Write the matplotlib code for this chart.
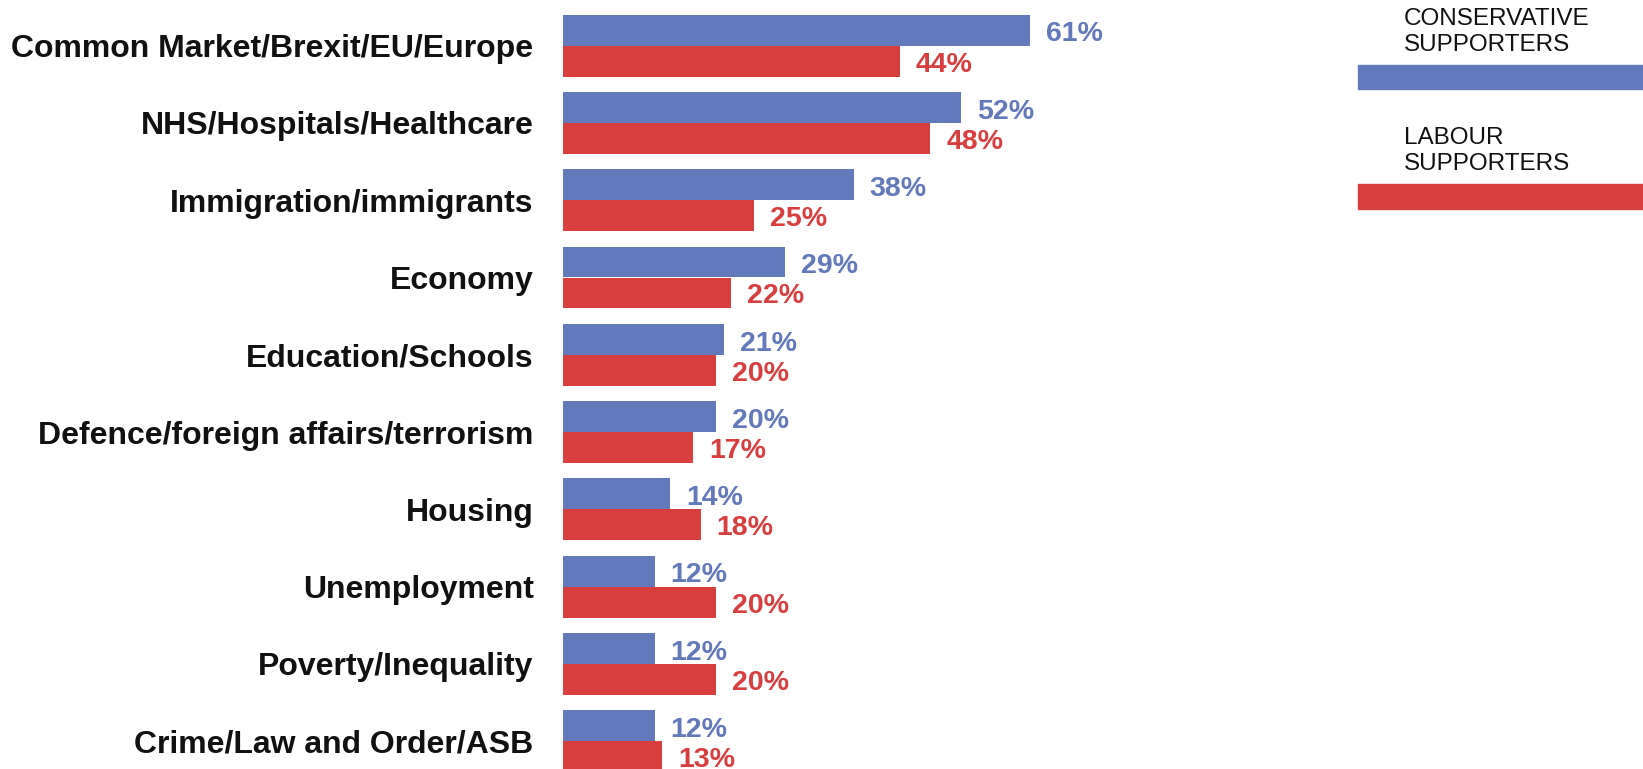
import matplotlib
matplotlib.use("Agg")
import matplotlib.pyplot as plt
from matplotlib.patches import Rectangle

plt.rcParams['font.family'] = ['Liberation Sans', 'DejaVu Sans']

categories = ["Common Market/Brexit/EU/Europe", "NHS/Hospitals/Healthcare",
              "Immigration/immigrants", "Economy", "Education/Schools",
              "Defence/foreign affairs/terrorism", "Housing", "Unemployment",
              "Poverty/Inequality", "Crime/Law and Order/ASB"]
conservative = [61, 52, 38, 29, 21, 20, 14, 12, 12, 12]
labour = [44, 48, 25, 22, 20, 17, 18, 20, 20, 13]
series_names = ["CONSERVATIVE\nSUPPORTERS", "LABOUR\nSUPPORTERS"]

blue = "#6279BB"
red = "#D83E3E"

W, H = 1643, 769
fig = plt.figure(figsize=(W / 100, H / 100), dpi=100)
x0 = 562.7
ax = fig.add_axes([x0 / W, 0, 1 - x0 / W, 1])

pitch = 77.3
first = 45.6
ax.set_ylim((H - first) / pitch, -first / pitch)
ax.set_xlim(0, (W - x0) / 7.66)

ys = list(range(len(categories)))
h = 0.4
ax.barh([y - h / 2 for y in ys], conservative, height=h, color=blue)
ax.barh([y + h / 2 for y in ys], labour, height=h, color=red)

for y, c, l in zip(ys, conservative, labour):
    ax.annotate(f"{c}%", xy=(c, y - h / 2), xytext=(11.5, -3), textcoords='offset points',
                va='center', ha='left', fontsize=20.5, fontweight='bold', color=blue)
    ax.annotate(f"{l}%", xy=(l, y + h / 2), xytext=(11.5, -2.5), textcoords='offset points',
                va='center', ha='left', fontsize=20.5, fontweight='bold', color=red)

ax.set_yticks(ys)
ax.set_yticklabels(categories, fontsize=23, fontweight='bold', color="#111111")
ax.tick_params(axis='y', length=0, pad=21)
ax.set_xticks([])
for s in ax.spines.values():
    s.set_visible(False)

# legend: label above a colour strip
for name, col, ttop, ptop in [(series_names[0], blue, 8, 65), (series_names[1], red, 127, 184.5)]:
    fig.text(1404 / W, 1 - ttop / H, name, ha='left', va='top', fontsize=17.5,
             color="#111111", linespacing=1.22)
    fig.add_artist(Rectangle((1358 / W, 1 - (ptop + 24) / H), (W - 1358) / W, 24 / H,
                             transform=fig.transFigure, color=col))

plt.savefig("out.png", dpi=100)
